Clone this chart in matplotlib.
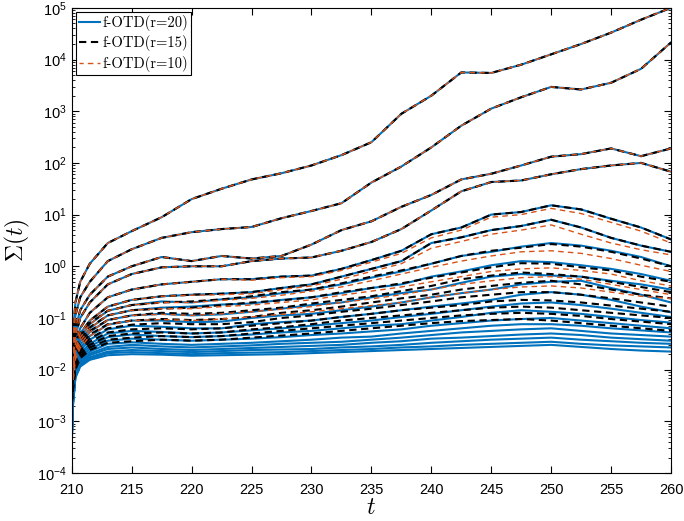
import numpy as np
import matplotlib.pyplot as plt

# sample times (t) at which values were read
t = [210, 210.1, 210.3, 210.7, 211.5, 213, 215, 217.5, 220, 222.5, 225, 227.5,
     230, 232.5, 235, 237.5, 240, 242.5, 245, 247.5, 250, 252.5, 255, 257.5, 260]

# log10 of the singular values, f-OTD r=20 (blue)
c1 = [-2.4, -1.3, -0.7, -0.3, 0.05, 0.45, 0.68, 0.95, 1.3, 1.5, 1.68, 1.8, 1.95, 2.15, 2.4, 2.95, 3.3, 3.75, 3.74, 3.9, 4.1, 4.3, 4.52, 4.77, 5.0]
c2 = [-2.5, -1.5, -0.95, -0.6, -0.3, 0.1, 0.33, 0.55, 0.66, 0.72, 0.76, 0.93, 1.07, 1.22, 1.62, 1.93, 2.3, 2.72, 3.05, 3.27, 3.47, 3.42, 3.55, 3.82, 4.33]
c3 = [-2.6, -1.7, -1.2, -0.85, -0.55, -0.2, 0.0, 0.18, 0.1, 0.2, 0.15, 0.2, 0.42, 0.7, 0.87, 1.15, 1.38, 1.68, 1.79, 1.95, 2.12, 2.17, 2.28, 2.13, 2.28]
c4 = [-2.7, -1.85, -1.35, -1.0, -0.7, -0.35, -0.15, -0.02, 0.0, 0.0, 0.1, 0.15, 0.17, 0.3, 0.47, 0.72, 1.08, 1.45, 1.63, 1.66, 1.78, 1.88, 1.95, 2.0, 1.83]
c5 = [-2.8, -2.0, -1.5, -1.2, -0.9, -0.6, -0.45, -0.35, -0.3, -0.25, -0.25, -0.2, -0.18, -0.05, 0.12, 0.3, 0.62, 0.75, 1.0, 1.05, 1.18, 1.1, 0.92, 0.75, 0.52]
c6 = [-2.85, -2.1, -1.6, -1.3, -1.05, -0.78, -0.65, -0.58, -0.55, -0.53, -0.5, -0.42, -0.35, -0.2, -0.05, 0.1, 0.45, 0.56, 0.7, 0.78, 0.9, 0.75, 0.55, 0.4, 0.28]
c7 = [-2.9, -2.15, -1.65, -1.38, -1.12, -0.86, -0.75, -0.68, -0.7, -0.64, -0.6, -0.52, -0.45, -0.35, -0.22, -0.1, 0.05, 0.2, 0.28, 0.38, 0.45, 0.4, 0.3, 0.18, 0.0]
c8 = [-2.95, -2.2, -1.7, -1.45, -1.2, -0.95, -0.85, -0.8, -0.78, -0.74, -0.72, -0.65, -0.6, -0.52, -0.42, -0.35, -0.2, -0.1, 0.02, 0.1, 0.08, 0.02, -0.05, -0.15, -0.28]
c9 = [-3.0, -2.25, -1.75, -1.52, -1.27, -1.04, -0.95, -0.92, -0.95, -0.93, -0.88, -0.82, -0.75, -0.7, -0.6, -0.52, -0.45, -0.32, -0.2, -0.15, -0.18, -0.2, -0.28, -0.35, -0.45]
c10 = [-3.05, -2.3, -1.8, -1.58, -1.35, -1.13, -1.05, -1.05, -1.08, -1.07, -1.0, -0.95, -0.92, -0.85, -0.78, -0.7, -0.6, -0.52, -0.45, -0.35, -0.3, -0.28, -0.42, -0.55, -0.7]
c11 = [-3.1, -2.35, -1.85, -1.63, -1.42, -1.22, -1.15, -1.17, -1.2, -1.2, -1.12, -1.08, -1.05, -0.98, -0.92, -0.85, -0.78, -0.72, -0.65, -0.55, -0.5, -0.55, -0.65, -0.78, -0.89]
c12 = [-3.15, -2.4, -1.9, -1.68, -1.5, -1.3, -1.25, -1.27, -1.3, -1.28, -1.24, -1.2, -1.15, -1.1, -1.05, -0.98, -0.92, -0.85, -0.78, -0.72, -0.7, -0.75, -0.82, -0.9, -0.98]
c13 = [-3.2, -2.45, -1.95, -1.72, -1.55, -1.37, -1.32, -1.35, -1.37, -1.35, -1.32, -1.28, -1.25, -1.2, -1.15, -1.12, -1.05, -0.98, -0.9, -0.85, -0.88, -0.92, -0.98, -1.04, -1.09]
c14 = [-3.25, -2.5, -2.0, -1.76, -1.6, -1.44, -1.4, -1.42, -1.44, -1.42, -1.4, -1.37, -1.33, -1.3, -1.26, -1.22, -1.15, -1.1, -1.05, -1.02, -1.0, -1.05, -1.1, -1.15, -1.2]
c15 = [-3.28, -2.55, -2.05, -1.8, -1.65, -1.5, -1.47, -1.5, -1.52, -1.5, -1.48, -1.45, -1.42, -1.38, -1.36, -1.3, -1.25, -1.2, -1.15, -1.12, -1.12, -1.15, -1.2, -1.24, -1.28]
c16 = [-3.3, -2.6, -2.08, -1.84, -1.69, -1.56, -1.52, -1.55, -1.57, -1.55, -1.53, -1.5, -1.48, -1.46, -1.42, -1.38, -1.33, -1.28, -1.25, -1.22, -1.2, -1.25, -1.3, -1.33, -1.36]
c17 = [-3.32, -2.62, -2.1, -1.87, -1.72, -1.6, -1.57, -1.6, -1.62, -1.6, -1.58, -1.56, -1.54, -1.52, -1.48, -1.45, -1.4, -1.38, -1.35, -1.32, -1.3, -1.33, -1.38, -1.41, -1.44]
c18 = [-3.34, -2.64, -2.12, -1.9, -1.76, -1.65, -1.62, -1.64, -1.66, -1.64, -1.62, -1.61, -1.6, -1.57, -1.55, -1.52, -1.48, -1.45, -1.42, -1.4, -1.38, -1.42, -1.45, -1.48, -1.5]
c19 = [-3.36, -2.66, -2.14, -1.92, -1.79, -1.68, -1.66, -1.68, -1.7, -1.68, -1.67, -1.66, -1.64, -1.62, -1.6, -1.57, -1.55, -1.52, -1.5, -1.48, -1.46, -1.5, -1.53, -1.55, -1.57]
c20 = [-3.38, -2.68, -2.16, -1.94, -1.81, -1.72, -1.7, -1.71, -1.73, -1.72, -1.71, -1.7, -1.68, -1.66, -1.64, -1.62, -1.6, -1.58, -1.56, -1.54, -1.52, -1.56, -1.6, -1.63, -1.65]
r20 = [c1, c2, c3, c4, c5, c6, c7, c8, c9, c10, c11, c12, c13, c14, c15, c16, c17, c18, c19, c20]

# f-OTD r=15 (black dashed); the top six lie on the blue curves
k7 = [-2.5, -2.0, -1.6, -1.35, -1.1, -0.86, -0.75, -0.7, -0.68, -0.64, -0.58, -0.5, -0.45, -0.33, -0.2, -0.08, 0.05, 0.2, 0.3, 0.36, 0.43, 0.38, 0.28, 0.15, 0.0]
k8 = [-2.52, -2.05, -1.65, -1.42, -1.18, -0.95, -0.85, -0.82, -0.8, -0.75, -0.7, -0.66, -0.6, -0.5, -0.42, -0.33, -0.22, -0.12, -0.02, 0.06, 0.05, -0.02, -0.08, -0.2, -0.3]
k9 = [-2.54, -2.1, -1.7, -1.48, -1.25, -1.04, -0.95, -0.9, -0.92, -0.9, -0.85, -0.8, -0.72, -0.65, -0.58, -0.48, -0.38, -0.25, -0.18, -0.12, -0.15, -0.2, -0.3, -0.4, -0.5]
k10 = [-2.56, -2.15, -1.75, -1.55, -1.32, -1.12, -1.05, -1.02, -1.04, -1.02, -0.98, -0.9, -0.85, -0.78, -0.7, -0.62, -0.55, -0.45, -0.38, -0.32, -0.28, -0.35, -0.45, -0.55, -0.62]
k11 = [-2.58, -2.2, -1.8, -1.6, -1.4, -1.2, -1.13, -1.1, -1.12, -1.12, -1.08, -1.0, -0.95, -0.88, -0.82, -0.75, -0.68, -0.6, -0.55, -0.5, -0.5, -0.55, -0.62, -0.7, -0.78]
k12 = [-2.6, -2.25, -1.85, -1.65, -1.46, -1.28, -1.22, -1.2, -1.22, -1.2, -1.15, -1.1, -1.05, -0.98, -0.92, -0.85, -0.8, -0.75, -0.68, -0.65, -0.66, -0.7, -0.76, -0.82, -0.88]
k13 = [-2.62, -2.3, -1.9, -1.7, -1.52, -1.35, -1.3, -1.28, -1.3, -1.28, -1.22, -1.18, -1.12, -1.05, -1.0, -0.95, -0.9, -0.85, -0.8, -0.78, -0.8, -0.85, -0.9, -0.95, -1.0]
k14 = [-2.64, -2.35, -1.95, -1.74, -1.57, -1.42, -1.38, -1.35, -1.37, -1.35, -1.3, -1.25, -1.2, -1.15, -1.1, -1.05, -1.0, -0.95, -0.92, -0.9, -0.92, -0.96, -1.02, -1.07, -1.12]
k15 = [-2.66, -2.4, -2.0, -1.78, -1.62, -1.48, -1.45, -1.42, -1.44, -1.42, -1.38, -1.34, -1.3, -1.25, -1.2, -1.15, -1.1, -1.06, -1.04, -1.02, -1.05, -1.1, -1.15, -1.2, -1.25]
r15 = [[-2.3] + c[1:] for c in r20[:6]] + [k7, k8, k9, k10, k11, k12, k13, k14, k15]

# f-OTD r=10 (orange dashed)
o5 = [-2.25, -2.0, -1.5, -1.2, -0.9, -0.6, -0.45, -0.35, -0.3, -0.25, -0.27, -0.22, -0.2, -0.08, 0.08, 0.25, 0.55, 0.7, 0.95, 1.0, 1.12, 1.02, 0.85, 0.68, 0.45]
o6 = [-2.28, -2.1, -1.6, -1.3, -1.05, -0.78, -0.65, -0.58, -0.56, -0.55, -0.53, -0.45, -0.38, -0.25, -0.1, 0.05, 0.35, 0.48, 0.62, 0.7, 0.8, 0.62, 0.45, 0.32, 0.22]
o7 = [-2.3, -2.1, -1.65, -1.38, -1.12, -0.86, -0.75, -0.7, -0.7, -0.66, -0.62, -0.56, -0.48, -0.4, -0.28, -0.15, -0.02, 0.1, 0.2, 0.28, 0.3, 0.25, 0.15, 0.02, -0.1]
o8 = [-2.32, -2.15, -1.7, -1.45, -1.2, -0.95, -0.85, -0.82, -0.82, -0.78, -0.75, -0.7, -0.65, -0.56, -0.48, -0.4, -0.3, -0.2, -0.1, -0.05, -0.03, -0.08, -0.15, -0.28, -0.38]
o9 = [-2.34, -2.2, -1.75, -1.52, -1.27, -1.04, -0.95, -0.93, -0.95, -0.92, -0.88, -0.83, -0.78, -0.7, -0.63, -0.55, -0.45, -0.35, -0.28, -0.22, -0.2, -0.25, -0.35, -0.45, -0.55]
o10 = [-2.36, -2.25, -1.8, -1.58, -1.35, -1.13, -1.05, -1.03, -1.05, -1.02, -0.98, -0.93, -0.88, -0.82, -0.76, -0.7, -0.6, -0.52, -0.45, -0.4, -0.38, -0.42, -0.5, -0.58, -0.62]
r10 = [[-2.2] + c[1:] for c in r20[:4]] + [o5, o6, o7, o8, o9, o10]

blue = '#0072BD'
orange = '#D95319'

plt.rcParams['font.family'] = ['Liberation Sans', 'DejaVu Sans']
plt.rcParams['mathtext.fontset'] = 'custom'
plt.rcParams['mathtext.rm'] = 'Liberation Sans'
plt.rcParams['mathtext.it'] = 'Liberation Sans:italic'

fig = plt.figure(figsize=(6.84, 5.21), dpi=100)
ax = fig.add_axes([0.105, 0.092, 0.876, 0.893])

for i, c in enumerate(r20):
    ax.plot(t, 10.0 ** np.array(c), color=blue, lw=1.5,
            label='f-OTD(r=20)' if i == 0 else None)
for i, c in enumerate(r15):
    ax.plot(t, 10.0 ** np.array(c), color='k', lw=1.5, ls=(0, (3.5, 2.2)),
            label='f-OTD(r=15)' if i == 0 else None)
for i, c in enumerate(r10):
    ax.plot(t, 10.0 ** np.array(c), color=orange, lw=1.0, ls=(1, (4, 3)),
            label='f-OTD(r=10)' if i == 0 else None)

ax.set_yscale('log')
ax.set_xlim(210, 260)
ax.set_ylim(1e-4, 1e5)
ax.set_xticks(np.arange(210, 261, 5))
ax.set_yticks([10.0 ** e for e in range(-4, 6)])
ax.tick_params(which='both', direction='in', top=True, right=True, labelsize=10.5)
ax.tick_params(axis='x', pad=7)
ax.tick_params(which='major', length=5)
ax.tick_params(which='minor', length=2.5)
for s in ax.spines.values():
    s.set_linewidth(0.8)

ax.set_xlabel('$t$', fontsize=17, math_fontfamily='cm', labelpad=0)
ax.set_ylabel(r'$\mathbf{\Sigma}(t)$', fontsize=17, math_fontfamily='cm', labelpad=4)

leg = ax.legend(loc='upper left', prop={'family': 'cmr10', 'size': 10.5},
                frameon=True, fancybox=False, edgecolor='k', framealpha=1,
                handlelength=1.4, handletextpad=0.2, borderpad=0.2,
                labelspacing=0.3, borderaxespad=0.3)
leg.get_frame().set_linewidth(0.8)

fig.savefig('out.png', dpi=100)
